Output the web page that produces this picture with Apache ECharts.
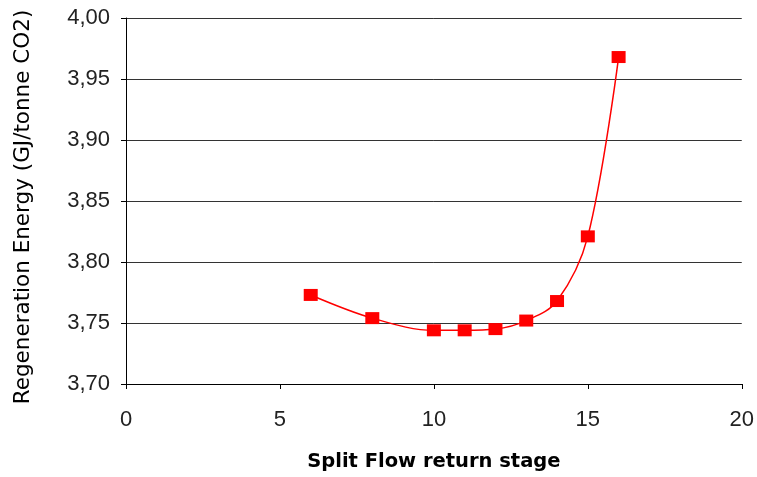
<!DOCTYPE html>
<html><head><meta charset="utf-8">
<script src="https://cdn.jsdelivr.net/npm/echarts@6/dist/echarts.min.js"></script>
<style>html,body{margin:0;padding:0;background:#fff}#c{width:757px;height:477px}</style>
</head><body><div id="c"></div>
<script>
const stages = [6, 8, 10, 11, 12, 13, 14, 15, 16];
const energy = [3.773, 3.754, 3.744, 3.744, 3.745, 3.752, 3.768, 3.821, 3.968];
const xTitle = 'Split Flow return stage';
const yTitle = 'Regeneration Energy (GJ/tonne CO2)';

const chart = echarts.init(document.getElementById('c'));
const font = 'Liberation Sans, Arial, sans-serif';
const wide = 'DejaVu Sans, Liberation Sans, sans-serif';
chart.setOption({
  animation: false,
  grid: {left: 126, right: 14, top: 18, bottom: 93},
  xAxis: {
    type: 'value', min: 0, max: 20, interval: 5,
    name: xTitle, nameLocation: 'middle', nameGap: 68,
    nameTextStyle: {fontFamily: wide, fontSize: 19.5, fontWeight: 'bold', color: '#000'},
    axisLine: {onZero: false, lineStyle: {color: '#000', width: 1}},
    axisTick: {show: true, length: 5, lineStyle: {color: '#000'}},
    axisLabel: {fontFamily: font, fontSize: 22, color: '#222', margin: 25},
    splitLine: {show: false}
  },
  yAxis: {
    type: 'value', min: 3.70, max: 4.00, interval: 0.05,
    name: yTitle, nameLocation: 'middle', nameGap: 92, nameRotate: 90,
    nameTextStyle: {fontFamily: wide, fontSize: 21.5, color: '#000', padding: [0, 12, 0, 0]},
    axisLine: {show: true, lineStyle: {color: '#000', width: 1}},
    axisTick: {show: true, length: 5, lineStyle: {color: '#000'}},
    axisLabel: {fontFamily: font, fontSize: 22, color: '#222', margin: 16,
      formatter: v => v.toFixed(2).replace('.', ',')},
    splitLine: {show: true, lineStyle: {color: '#333', width: 1}}
  },
  series: [{
    type: 'line',
    data: stages.map((s, i) => [s, energy[i]]),
    smooth: 0.35,
    symbol: 'rect', symbolSize: [14, 12],
    lineStyle: {color: '#ff0000', width: 1.5},
    itemStyle: {color: '#ff0000'}
  }]
});
</script></body></html>
